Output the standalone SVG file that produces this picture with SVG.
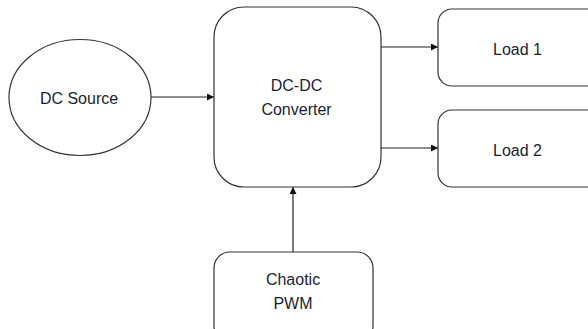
<svg xmlns="http://www.w3.org/2000/svg" width="588" height="329" viewBox="0 0 588 329">
<style>
.n{fill:#fff;stroke:#333;stroke-width:1.2}
.t{font-family:"Liberation Sans",Arial,sans-serif;font-size:16px;fill:#1a1f33;text-anchor:middle}
.c{stroke:#222;stroke-width:1.2;fill:none;marker-end:url(#a)}
</style>
<defs>
<marker id="a" viewBox="0 0 10 10" refX="10" refY="5" markerWidth="7" markerHeight="7" markerUnits="userSpaceOnUse" orient="auto">
<path d="M0,0 L10,5 L0,10 z" fill="#111"/>
</marker>
</defs>
<rect width="588" height="329" fill="#fff"/>
<g id="connectors">
<line class="c" x1="151" y1="97" x2="214" y2="97"/>
<line class="c" x1="381" y1="47" x2="438" y2="47"/>
<line class="c" x1="381" y1="148" x2="438" y2="148"/>
<line class="c" x1="293" y1="252" x2="293" y2="187"/>
</g>
<g id="dc-source">
<ellipse class="n" cx="80" cy="97.5" rx="71" ry="58"/>
<text class="t" x="79" y="104">DC Source</text>
</g>
<g id="converter">
<rect class="n" x="214" y="7" width="167" height="180" rx="30" ry="30"/>
<text class="t" x="296.5" y="91">DC-DC</text>
<text class="t" x="296.5" y="115">Converter</text>
</g>
<g id="load1">
<rect class="n" x="438" y="9" width="170" height="77" rx="14" ry="14"/>
<text class="t" x="517.5" y="55">Load 1</text>
</g>
<g id="load2">
<rect class="n" x="438" y="110" width="170" height="77" rx="14" ry="14"/>
<text class="t" x="517.5" y="156">Load 2</text>
</g>
<g id="chaotic-pwm">
<rect class="n" x="214" y="252" width="159" height="90" rx="16" ry="16"/>
<text class="t" x="293" y="285">Chaotic</text>
<text class="t" x="293" y="309">PWM</text>
</g>
</svg>
